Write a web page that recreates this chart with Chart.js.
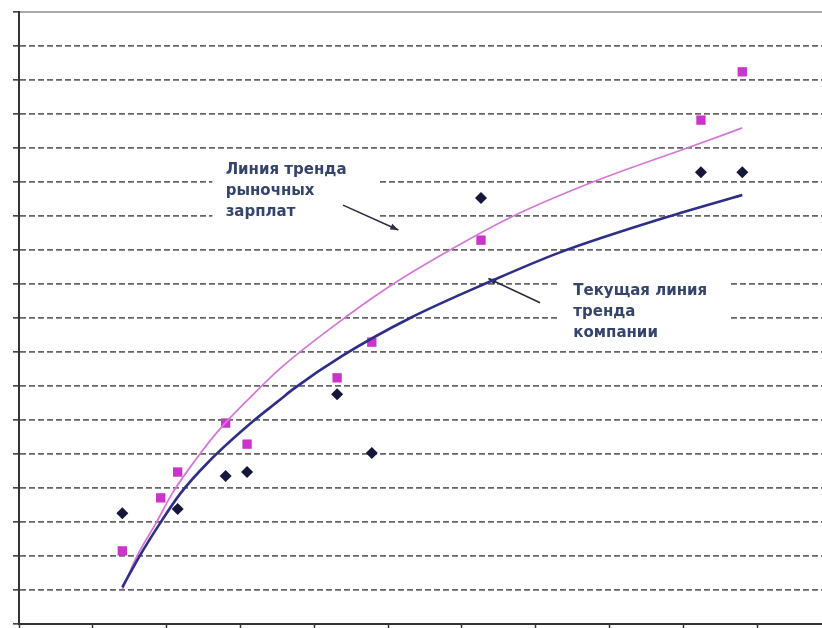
<!DOCTYPE html>
<html>
<head>
<meta charset="utf-8">
<script src="https://cdn.jsdelivr.net/npm/chart.js@4"></script>
<style>
  html, body { margin: 0; padding: 0; background: #ffffff; }
  #wrap { width: 822px; height: 628px; }
</style>
</head>
<body>
<div id="wrap"><canvas id="c" width="822" height="628"></canvas></div>
<script>
// ---- data ----
const xValues        = [1.40, 1.92, 2.15, 2.80, 3.09, 4.31, 4.78, 6.26, 9.24, 9.80];
const marketPay      = [2.15, 3.71, 4.47, 5.91, 5.29, 7.24, 8.29, 11.29, 14.82, 16.24];
const companyPay     = [3.26, null, 3.38, 4.35, 4.47, 6.76, 5.03, 12.53, 13.29, 13.29];

const marketTrendX   = [1.40, 1.60, 1.87, 2.07, 2.41, 2.70, 3.13, 3.54, 4.46, 5.07, 5.84, 6.65, 7.74, 9.09, 9.80];
const marketTrendY   = [1.02, 2.00, 3.02, 3.82, 4.88, 5.68, 6.66, 7.52, 9.08, 10.0, 11.0, 11.95, 12.97, 14.03, 14.59];
const companyTrendX  = [1.40, 1.64, 1.91, 2.18, 2.56, 3.17, 3.54, 3.71, 4.39, 5.30, 6.36, 7.33, 8.78, 9.80];
const companyTrendY  = [1.08, 2.02, 2.96, 3.82, 4.75, 5.96, 6.60, 6.90, 7.90, 9.00, 10.05, 10.93, 11.97, 12.62];

const labelMarket  = ['Линия тренда', 'рыночных', 'зарплат'];
const labelCompany = ['Текущая линия', 'тренда', 'компании'];

const xTicks = [0, 1, 2, 3, 4, 5, 6, 7, 8, 9, 10];
const yMin = 0, yMax = 18, xMin = 0, xMax = 10.88;

// ---- helpers ----
function pts(xs, ys) {
  const out = [];
  for (let i = 0; i < xs.length; i++) if (ys[i] !== null) out.push({x: xs[i], y: ys[i]});
  return out;
}

// annotations in data units
const notes = [
  {lines: labelMarket, tx: 2.80, ty: [13.35, 12.72, 12.10], box: [2.62, 13.7, 4.88, 11.42],
   arrow: {from: [4.39, 12.32], to: [5.14, 11.59]}},
  {lines: labelCompany, tx: 7.51, ty: [9.80, 9.18, 8.56], box: [7.33, 10.55, 9.62, 8.36],
   arrow: {from: [7.06, 9.45], to: [6.36, 10.16]}}
];

const annotate = {
  id: 'annotate',
  beforeDatasetsDraw(chart) {
    const {ctx, scales: {x, y}} = chart;
    ctx.save();
    notes.forEach(n => {
      const bx1 = x.getPixelForValue(n.box[0]), by1 = y.getPixelForValue(n.box[1]);
      const bx2 = x.getPixelForValue(n.box[2]), by2 = y.getPixelForValue(n.box[3]);
      ctx.fillStyle = '#ffffff';
      ctx.fillRect(bx1, by1, bx2 - bx1, by2 - by1);
      ctx.fillStyle = '#34446c';
      ctx.font = 'bold 15px "DejaVu Sans", Verdana, sans-serif';
      ctx.textBaseline = 'middle';
      ctx.textAlign = 'left';
      n.lines.forEach((t, i) => {
        ctx.fillText(t, x.getPixelForValue(n.tx), y.getPixelForValue(n.ty[i]));
      });
      // arrow
      const x1 = x.getPixelForValue(n.arrow.from[0]), y1 = y.getPixelForValue(n.arrow.from[1]);
      const x2 = x.getPixelForValue(n.arrow.to[0]), y2 = y.getPixelForValue(n.arrow.to[1]);
      ctx.strokeStyle = '#2c2c44';
      ctx.fillStyle = '#2c2c44';
      ctx.lineWidth = 1.6;
      ctx.beginPath(); ctx.moveTo(x1, y1); ctx.lineTo(x2, y2); ctx.stroke();
      const a = Math.atan2(y2 - y1, x2 - x1), L = 8, W = 3.2;
      ctx.beginPath();
      ctx.moveTo(x2, y2);
      ctx.lineTo(x2 - L * Math.cos(a) + W * Math.sin(a), y2 - L * Math.sin(a) - W * Math.cos(a));
      ctx.lineTo(x2 - L * Math.cos(a) - W * Math.sin(a), y2 - L * Math.sin(a) + W * Math.cos(a));
      ctx.closePath(); ctx.fill();
    });
    ctx.restore();
  }
};

new Chart(document.getElementById('c'), {
  type: 'scatter',
  data: {
    datasets: [
      {
        label: 'Рыночные зарплаты', data: pts(xValues, marketPay),
        pointStyle: 'rect', pointRadius: 6.6, pointHoverRadius: 6.6,
        backgroundColor: '#cc33cc', borderColor: '#cc33cc', borderWidth: 0, order: 3
      },
      {
        label: 'Зарплаты компании', data: pts(xValues, companyPay),
        pointStyle: 'rectRot', pointRadius: 6, pointHoverRadius: 6,
        backgroundColor: '#16163a', borderColor: '#16163a', borderWidth: 0, order: 4
      },
      {
        label: 'Линия тренда рыночных зарплат', data: pts(marketTrendX, marketTrendY),
        showLine: true, pointRadius: 0, borderColor: '#d678d6', borderWidth: 1.8,
        cubicInterpolationMode: 'monotone', fill: false, order: 2
      },
      {
        label: 'Текущая линия тренда компании', data: pts(companyTrendX, companyTrendY),
        showLine: true, pointRadius: 0, borderColor: '#2e2e88', borderWidth: 2.6,
        cubicInterpolationMode: 'monotone', fill: false, order: 1
      }
    ]
  },
  options: {
    responsive: false,
    animation: false,
    layout: {autoPadding: false, padding: {left: 13, top: 12, right: 0, bottom: 0}},
    plugins: {legend: {display: false}, tooltip: {enabled: false}},
    scales: {
      x: {
        type: 'linear', min: xMin, max: xMax,
        afterBuildTicks: s => { s.ticks = xTicks.map(v => ({value: v})); },
        ticks: {display: false},
        grid: {drawOnChartArea: false, drawTicks: true, tickLength: 4, tickColor: '#333333', tickWidth: 1.5},
        border: {display: true, color: '#333333', width: 2}
      },
      xTop: {
        type: 'linear', position: 'top', min: xMin, max: xMax,
        ticks: {display: false},
        grid: {display: false, drawTicks: false, tickLength: 0},
        border: {display: true, color: '#a9a9a9', width: 2}
      },
      y: {
        type: 'linear', min: yMin, max: yMax,
        ticks: {display: false, stepSize: 1},
        grid: {
          color: c => (c.tick && (c.tick.value === yMax || c.tick.value === yMin)) ? 'rgba(0,0,0,0)' : '#666666',
          lineWidth: 1.7, drawTicks: true, tickLength: 6, tickColor: '#333333', tickWidth: 1.5
        },
        border: {display: true, color: '#333333', width: 2, dash: [6, 3]}
      }
    }
  },
  plugins: [annotate]
});
</script>
</body>
</html>
